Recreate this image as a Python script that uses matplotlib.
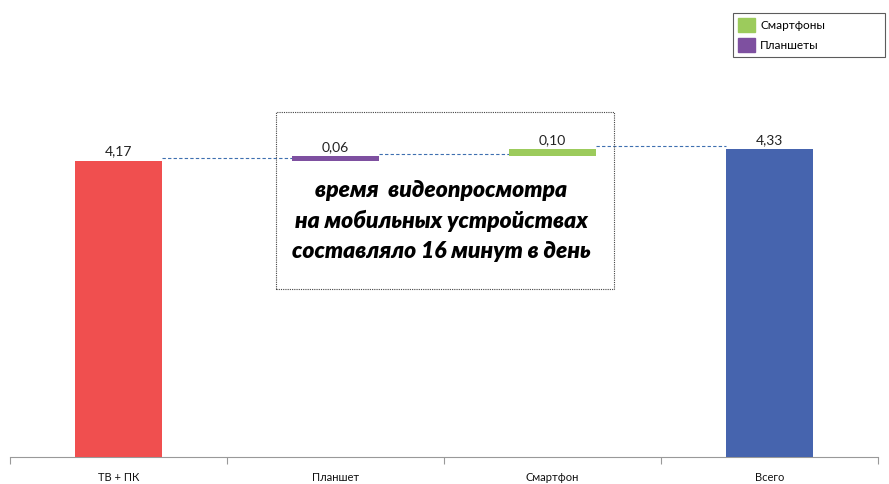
import numpy as np
import matplotlib
matplotlib.use("Agg")
import matplotlib.pyplot as plt
from matplotlib.patches import Patch, Rectangle

# данные
categories = ["ТВ + ПК", "Планшет", "Смартфон", "Всего"]
values = [4.17, 0.06, 0.10, 4.33]
labels = ["4,17", "0,06", "0,10", "4,33"]
colors = ["#F04F4F", "#7E50A0", "#9CCB5C", "#4664AE"]
legend_names = ["Смартфоны", "Планшеты"]
note = "время  видеопросмотра\nна мобильных устройствах\nсоставляло 16 минут в день"

plt.rcParams["font.family"] = ["Lato", "Open Sans", "DejaVu Sans"]

fig = plt.figure(figsize=(8.89, 4.84), dpi=100)
ax = fig.add_axes([0.01125, 0.0558, 0.9764, 0.9029])

# водопад: начало каждого столбца
bottoms = [0, values[0], values[0] + values[1], 0]
x = np.arange(len(categories))
w = 0.4
ax.bar(x, values, bottom=bottoms, width=w, color=colors, zorder=3)

# подписи значений
for i in range(len(values)):
    top = bottoms[i] + values[i]
    ax.text(x[i], top + 0.05, labels[i], ha="center", va="bottom",
            fontsize=10, color="#222222")

# соединительные пунктирные линии
levels = [values[0], values[0] + values[1], values[0] + values[1] + values[2]]
for i in range(3):
    y = levels[i] + 0.04
    ax.plot([x[i] + w / 2, x[i + 1] - w / 2], [y, y], ls=(0, (3, 2)),
            color="#3E6FB0", lw=0.8, zorder=2)

ax.set_xlim(-0.5, 3.5)
ax.set_ylim(0, 6.15)

# оси
for s in ["top", "right", "left"]:
    ax.spines[s].set_visible(False)
ax.spines["bottom"].set_color("#999999")
ax.spines["bottom"].set_linewidth(0.8)
ax.set_yticks([])
ax.set_xticks(x)
ax.set_xticklabels(categories, fontsize=8, color="#111111")
ax.tick_params(axis="x", which="major", length=0, pad=11)
ax.set_xticks(np.arange(-0.5, 4, 1), minor=True)
ax.tick_params(axis="x", which="minor", length=5, color="#999999", width=0.8)

# рамка с текстом
box = Rectangle((276 / 889, (484 - 289) / 484), (614 - 276) / 889, (289 - 112) / 484,
                transform=fig.transFigure, fill=False, ls=(0, (1, 1)),
                lw=0.8, edgecolor="#444444", zorder=1)
fig.patches.append(box)
fig.text(441 / 889, (484 - 221) / 484, note, ha="center", va="center",
         fontsize=16.5, fontweight="heavy", fontstyle="italic",
         linespacing=1.5, color="#000000")

# легенда
handles = [Patch(color=colors[2]), Patch(color=colors[1])]
leg = fig.legend(handles, legend_names, loc="upper left",
                 bbox_to_anchor=(733 / 889, 1 - 57 / 484, 152 / 889, 44 / 484),
                 mode="expand", fontsize=8.5, frameon=True, fancybox=False,
                 handlelength=1.5, handleheight=1.5, borderpad=0.4,
                 labelspacing=0.5, handletextpad=0.4, borderaxespad=0)
leg.get_frame().set_edgecolor("#333333")
leg.get_frame().set_linewidth(0.8)

fig.savefig("out.png", dpi=100)
